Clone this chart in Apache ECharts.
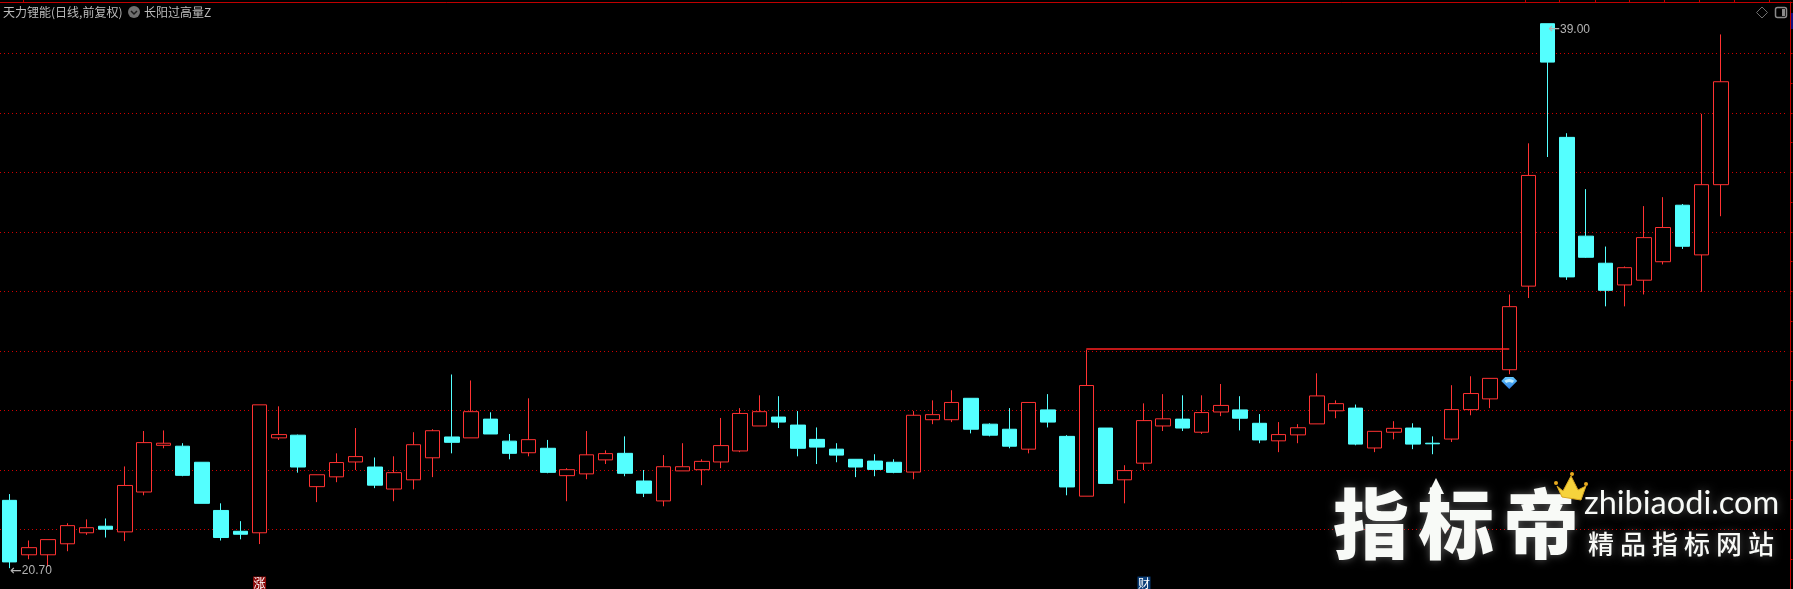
<!DOCTYPE html>
<html><head><meta charset="utf-8">
<style>html,body{margin:0;padding:0;background:#000;overflow:hidden}#c{width:1793px;height:589px}</style>
<script src="https://cdn.jsdelivr.net/npm/echarts@6/dist/echarts.min.js"></script>
</head><body><div id="c"></div>
<script>
const opens = [22.98,21.15,21.15,21.52,21.89,22.11,21.92,23.26,24.83,24.80,24.26,22.64,21.94,21.89,25.08,25.17,23.44,23.77,24.27,24.10,23.36,23.67,24.41,25.11,25.08,25.71,24.97,24.58,24.73,23.81,23.87,
24.34,24.56,23.63,22.96,23.97,24.01,24.27,24.64,25.48,25.78,25.51,25.03,24.70,24.36,24.30,24.26,23.93,25.69,25.69,26.41,25.54,25.37,24.70,26.02,25.13,23.12,25.41,23.67,24.23,25.48,25.71,25.27,
25.95,26.02,25.57,24.98,25.18,25.55,25.99,26.08,24.74,25.27,25.41,24.90,25.04,26.03,26.39,27.37,30.18,39.00,35.18,31.86,30.95,30.22,30.38,31.00,32.90,31.23,33.59];
const closes = [20.91,21.39,21.66,22.13,22.06,22.01,23.48,24.92,24.90,23.82,22.88,21.73,21.84,26.19,25.19,24.10,23.84,24.25,24.45,23.49,23.91,24.85,25.32,24.93,25.96,25.21,24.56,25.02,23.92,24.01,24.51,
24.55,23.89,23.22,24.11,24.11,24.29,24.82,25.90,25.96,25.61,24.73,24.77,24.50,24.10,24.02,23.92,25.84,25.86,26.27,25.37,25.17,24.80,26.27,25.61,23.43,26.84,23.55,23.98,25.66,25.72,25.41,25.93,
26.17,25.74,25.01,25.19,25.42,26.49,26.23,24.87,25.30,25.40,24.87,24.88,26.03,26.57,27.08,29.49,33.90,37.71,30.49,31.15,30.04,30.80,31.81,32.15,31.52,33.59,37.05];
const lows = [20.70,21.00,20.75,21.27,21.82,21.73,21.61,23.15,24.73,23.79,22.88,21.63,21.67,21.51,25.01,23.91,22.92,23.59,24.00,23.39,22.95,23.35,23.76,24.56,25.08,25.21,24.36,24.46,23.89,22.95,23.69,
24.20,23.79,23.09,22.78,23.97,23.49,24.06,24.60,25.48,25.41,24.46,24.20,24.26,23.76,23.79,23.89,23.69,25.54,25.61,25.23,25.13,24.73,24.56,25.43,23.15,23.12,23.53,22.88,24.00,25.31,25.31,25.21,
25.81,25.33,24.90,24.60,24.90,25.55,25.74,24.83,24.60,25.03,24.70,24.53,24.94,25.84,26.08,27.22,29.78,34.52,30.39,31.13,29.50,29.50,29.90,30.91,31.43,29.99,32.53];
const highs = [23.19,21.63,21.66,22.21,22.34,22.37,24.12,25.31,25.33,24.90,24.26,22.88,22.28,26.19,26.14,25.19,23.84,24.56,25.41,24.42,24.46,25.27,25.37,27.21,27.01,25.94,25.21,26.41,25.01,24.06,25.31,
24.66,25.13,24.00,24.50,24.90,24.36,25.75,26.08,26.51,26.48,25.98,25.43,24.90,24.36,24.53,24.36,25.98,26.34,26.68,26.41,25.57,26.08,26.27,26.55,25.17,28.04,25.41,24.16,26.24,26.55,26.51,26.51,
26.89,26.48,25.88,25.61,25.54,27.25,26.34,26.20,25.30,25.64,25.57,25.13,26.85,27.15,27.08,29.90,34.98,39.00,35.32,33.44,31.51,30.84,32.87,33.17,32.94,35.97,38.64];
const slotCount = 93;
const categories = Array.from({length: slotCount}, (_, i) => String(i + 1));
const breakoutLevel = 28.07, breakoutFrom = 56, breakoutTo = 78;
const signalIndex = 78, signalPrice = 26.92;
const highLabel = {index: 80, price: 39.00, text: '39.00'};
const lowLabel = {index: 0, price: 20.70, text: '20.70'};
const eventTags = [{index: 13, price: 20.2, text: '涨', color: '#8c0a0a'}, {index: 59, price: 20.2, text: '财', color: '#0a3d78'}];
const titleLeft = '天力锂能(日线,前复权)', titleRight = '长阳过高量Z';
const brandChars = ['指','标','帝'], sloganChars = ['精','品','指','标','网','站'], brandSite = 'zhibiaodi.com';
const topTickX = [23,1525,1559,1595,1629,1664,1699,1734,1769];

const candleData = opens.map((o, i) => [o, closes[i], lows[i], highs[i]]);
const lineData = categories.map((_, i) => (i >= breakoutFrom && i <= breakoutTo) ? breakoutLevel : null);
const cjk = '"Noto Sans CJK SC"';
const graphics = [];
const T = (text, x, y, font, fill, extra) => graphics.push({type:'text', z:100, silent:true, style:Object.assign({text, x, y, font, fill, textVerticalAlign:'middle'}, extra||{})});
T(titleLeft, 3, 12, '12px '+cjk, '#bcbcbc');
T(titleRight, 144, 12, '12px '+cjk, '#bcbcbc');
graphics.push({type:'circle', z:100, silent:true, shape:{cx:134,cy:12,r:6}, style:{fill:'#707070'}});
graphics.push({type:'polyline', z:101, silent:true, shape:{points:[[131,11],[134,14],[137,11]]}, style:{stroke:'#1a1a1a',lineWidth:1.5,fill:null}});
topTickX.forEach(x => graphics.push({type:'rect', z:100, silent:true, shape:{x:x, y:0, width:1, height:2}, style:{fill:'#c00000'}}));
graphics.push({type:'rect', z:100, silent:true, shape:{x:1786, y:2, width:5, height:1}, style:{fill:'#c00000'}});
graphics.push({type:'polygon', z:100, silent:true, shape:{points:[[1762,7],[1767.5,12.5],[1762,18],[1756.5,12.5]]}, style:{fill:null,stroke:'#6e6e6e',lineWidth:1}});
graphics.push({type:'rect', z:100, silent:true, shape:{x:1775.5,y:7.5,width:11,height:10,r:2}, style:{fill:null,stroke:'#8a8a8a',lineWidth:1.5}});
graphics.push({type:'rect', z:100, silent:true, shape:{x:1782,y:9,width:3,height:7}, style:{fill:'#8a8a8a'}});
graphics.push({type:'rect', z:100, silent:true, shape:{x:1791,y:13,width:2,height:16}, style:{fill:'#10107e'}});
const glow = {textShadowBlur:8, textShadowColor:'rgba(255,255,255,0.35)'};
brandChars.forEach((c,i) => T(c, 1333 + i*85, 524, '900 76px '+cjk, '#f8faf7', glow));
sloganChars.forEach((c,i) => T(c, 1588 + i*32, 544, '500 26px '+cjk, '#f8faf7', glow));
T(brandSite, 1584, 504, '32.5px Lato', '#f8faf7', glow);
graphics.push({type:'polygon', z:100, silent:true, shape:{points:[[1436,478],[1444,494],[1438.5,494],[1438.5,505],[1433.5,505],[1433.5,494],[1428,494]]}, style:{fill:'#f8faf7'}});
graphics.push({type:'polygon', z:102, silent:true, shape:{points:[[1557,486],[1563,491],[1571,476],[1578,490],[1586,486],[1581,500],[1562,497]]}, style:{fill:'#f6d33c',stroke:'#d9a520',lineWidth:1}});
[[1556,483],[1572,474],[1586,484]].forEach(p => graphics.push({type:'circle', z:102, silent:true, shape:{cx:p[0],cy:p[1],r:2}, style:{fill:'#e8a91e'}}));

const priceLabel = (item, dy) => ({value:[item.index, item.price], label:{show:true, position:'right', distance:0, offset:[0,dy],
  formatter:'{a|←}{b|' + item.text + '}', rich:{a:{fontFamily:'"DejaVu Sans"', fontSize:14, color:'#b4b4b4'}, b:{fontFamily:'"Liberation Sans"', fontSize:12, color:'#b4b4b4'}}}});

const chart = echarts.init(document.getElementById('c'), null, {renderer:'canvas'});
chart.setOption({
  animation:false, backgroundColor:'#000',
  grid:{left:-2.2, width:1790.25, top:2, height:587, containLabel:false},
  xAxis:{type:'category', data:categories, position:'top', boundaryGap:true,
    axisLine:{show:true, lineStyle:{color:'#c00000', width:1}}, axisTick:{show:false}, axisLabel:{show:false}, splitLine:{show:false}},
  yAxis:{type:'value', position:'right', offset:2.5, min:20, max:39.73, interval:2, scale:true,
    axisLine:{show:true, lineStyle:{color:'#c00000', width:1}},
    axisTick:{show:true, length:2, inside:false, lineStyle:{color:'#c00000'}},
    minorTick:{show:true, splitNumber:2, length:2, lineStyle:{color:'#c00000'}},
    axisLabel:{show:false},
    splitLine:{show:true, lineStyle:{color:'#d00000', width:1, type:[1,3]}}, minorSplitLine:{show:false}},
  series:[
    {type:'candlestick', data:candleData, barWidth:15, clip:false, z:3,
      itemStyle:{color:'#000', color0:'#54FFFF', borderColor:'#FF3232', borderColor0:'#54FFFF', borderWidth:1}},
    {type:'line', data:lineData, showSymbol:false, connectNulls:false, z:4, lineStyle:{color:'#FF2020', width:1.5}},
    {type:'scatter', z:5, data:[[signalIndex, signalPrice]], symbol:'path://M4 0 H12 L16 4 L8 12 L0 4 Z', symbolSize:[16,12], symbolKeepAspect:false,
      itemStyle:{color:new echarts.graphic.LinearGradient(0,0,0,1,[{offset:0,color:'#62C8FF'},{offset:1,color:'#2E7FE6'}]), opacity:1}},
    {type:'scatter', z:6, data:[[signalIndex, signalPrice+0.07]], symbol:'path://M0 3 Q5 0 10 3 L8 5 Q5 3 2 5 Z', symbolSize:[10,4],
      itemStyle:{color:'#BDEBFF', opacity:1}},
    {type:'scatter', z:7, data:eventTags.map(t => ({value:[t.index, t.price], itemStyle:{color:t.color, opacity:1},
        label:{show:true, position:'inside', formatter:t.text, color:'#fff', fontSize:12, fontFamily:'"Noto Sans CJK SC"'}})),
      symbol:'rect', symbolSize:13},
    {type:'scatter', z:8, symbol:'circle', symbolSize:1, itemStyle:{color:'transparent', opacity:1},
      data:[priceLabel(lowLabel, 3), priceLabel(highLabel, 6)]}
  ],
  graphic:graphics
});
</script></body></html>
